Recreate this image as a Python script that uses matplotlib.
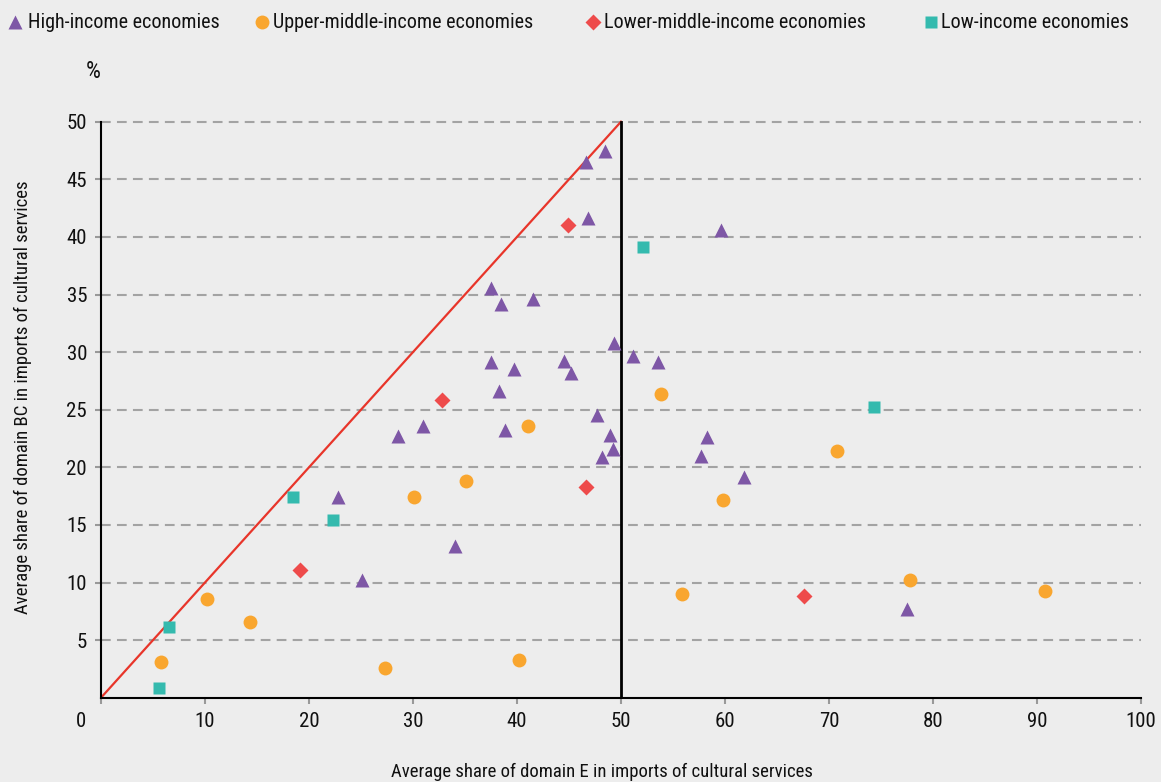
import matplotlib
matplotlib.use("Agg")
import matplotlib.pyplot as plt
from matplotlib import font_manager
from matplotlib.lines import Line2D
from matplotlib.transforms import ScaledTranslation

# ---------------- data ----------------
high_x = [48.5, 46.6, 46.8, 59.6, 37.5, 38.5, 41.5, 49.3, 51.2, 53.6, 37.5, 39.7, 44.5, 45.2,
          38.3, 31.0, 28.6, 22.8, 34.0, 25.1, 38.8, 47.7, 48.9, 49.2, 48.2, 58.3, 57.7, 61.8, 77.5]
high_y = [47.5, 46.5, 41.6, 40.6, 35.6, 34.2, 34.6, 30.8, 29.7, 29.1, 29.1, 28.5, 29.2, 28.2,
          26.6, 23.6, 22.7, 17.4, 13.2, 10.2, 23.2, 24.5, 22.8, 21.6, 20.9, 22.6, 21.0, 19.2, 7.7]

upper_x = [53.8, 35.1, 30.1, 10.2, 14.3, 5.8, 27.3, 41.1, 59.8, 55.9, 40.2, 70.8, 77.8, 90.8]
upper_y = [26.4, 18.8, 17.4, 8.6, 6.6, 3.1, 2.55, 23.6, 17.2, 9.0, 3.3, 21.4, 10.2, 9.3]

lower_x = [44.9, 32.8, 19.1, 46.6, 67.6]
lower_y = [41.0, 25.8, 11.1, 18.3, 8.8]

low_x = [52.1, 18.5, 22.3, 6.5, 5.6, 74.3]
low_y = [39.1, 17.4, 15.4, 6.1, 0.8, 25.2]

diag_x = [0, 50]
diag_y = [0, 50]
vline_x = 50
vline_y = [0, 50]

x_ticks = [0, 10, 20, 30, 40, 50, 60, 70, 80, 90, 100]
y_ticks = [5, 10, 15, 20, 25, 30, 35, 40, 45, 50]

labels = ["High-income economies", "Upper-middle-income economies",
          "Lower-middle-income economies", "Low-income economies"]

# ---------------- style ----------------
def pick_font():
    for name in ["Liberation Sans Narrow", "Roboto Condensed", "Open Sans Condensed"]:
        try:
            font_manager.findfont(font_manager.FontProperties(family=name),
                                  fallback_to_default=False)
            return name, "normal"
        except Exception:
            pass
    return "DejaVu Sans", "condensed"

fam, stretch = pick_font()
plt.rcParams['font.family'] = [fam, 'DejaVu Sans']
plt.rcParams['font.stretch'] = stretch
plt.rcParams['lines.scale_dashes'] = False
plt.rcParams['text.color'] = "#111111"

BG = "#EDEDED"
C_HIGH = "#7E57A6"
C_UPPER = "#F9A62F"
C_LOWER = "#EE4B4B"
C_LOW = "#34BAAE"
C_DIAG = "#E8352A"

W, H = 1161, 782
fig = plt.figure(figsize=(W / 100, H / 100), dpi=100, facecolor=BG)

x0px, x1px = 101, 1141
y0px = 697.7
ppu_y = 11.52
ytop = 51
ax = fig.add_axes([x0px / W, 1 - y0px / H, (x1px - x0px) / W, ytop * ppu_y / H])
ax.set_facecolor(BG)
ax.set_xlim(0, 100)
ax.set_ylim(0, ytop)

# grid
for yv in y_ticks:
    ax.axhline(yv, color="#A3A3A3", lw=1.5, dashes=(7, 4.5), zorder=1)

# reference lines
ax.plot(diag_x, diag_y, color=C_DIAG, lw=1.6, zorder=2)
ax.plot([vline_x, vline_x], vline_y, color="black", lw=2.0, zorder=2)

# scatter
ax.plot(high_x, high_y, ls="none", marker="^", ms=10, color=C_HIGH, mec="none", zorder=3)
ax.plot(upper_x, upper_y, ls="none", marker="o", ms=10, color=C_UPPER, mec="none", zorder=3)
ax.plot(lower_x, lower_y, ls="none", marker="D", ms=8.5, color=C_LOWER, mec="none", zorder=3)
ax.plot(low_x, low_y, ls="none", marker="s", ms=8.5, color=C_LOW, mec="none", zorder=3)

# spines
for s in ["top", "right"]:
    ax.spines[s].set_visible(False)
ax.spines["left"].set_bounds(0, 50)
ax.spines["left"].set_linewidth(1.5)
ax.spines["bottom"].set_linewidth(1.5)
ax.spines["left"].set_zorder(2.5)

ax.set_xticks(x_ticks)
ax.set_xticklabels([str(v) for v in x_ticks])
ax.set_yticks(y_ticks)
ax.set_yticklabels([str(v) for v in y_ticks])
ax.tick_params(axis="both", length=4, width=1.5, color="#999999", labelsize=15,
               labelcolor="#111111")
ax.tick_params(axis="y", pad=6)
ax.tick_params(axis="x", pad=6)

# shift the "0" x label to the left (corner label)
fig.canvas.draw()
lab0 = ax.get_xticklabels()[0]
lab0.set_transform(lab0.get_transform() + ScaledTranslation(-0.20, 0, fig.dpi_scale_trans))

# axis labels
fig.text(602 / W, 1 - 772 / H, "Average share of domain E in imports of cultural services",
         ha="center", va="center", fontsize=13.5)
fig.text(23 / W, 1 - 397 / H, "Average share of domain BC in imports of cultural services",
         ha="center", va="center", rotation=90, fontsize=13.5)
fig.text(93 / W, 1 - 72 / H, "%", ha="center", va="center", fontsize=17)

# legend (manual)
leg = [("^", C_HIGH, 10, 15, 28),
       ("o", C_UPPER, 10, 262, 273),
       ("D", C_LOWER, 8.5, 593, 604),
       ("s", C_LOW, 8, 931, 941)]
ly = 1 - 22 / H
for (mk, col, sz, mx, tx), lab in zip(leg, labels):
    fig.add_artist(Line2D([mx / W], [ly], marker=mk, ms=sz, color=col, mec="none",
                          ls="none", transform=fig.transFigure))
    fig.text(tx / W, ly, lab, ha="left", va="center", fontsize=14.5)

fig.savefig("out.png", dpi=100, facecolor=BG)
